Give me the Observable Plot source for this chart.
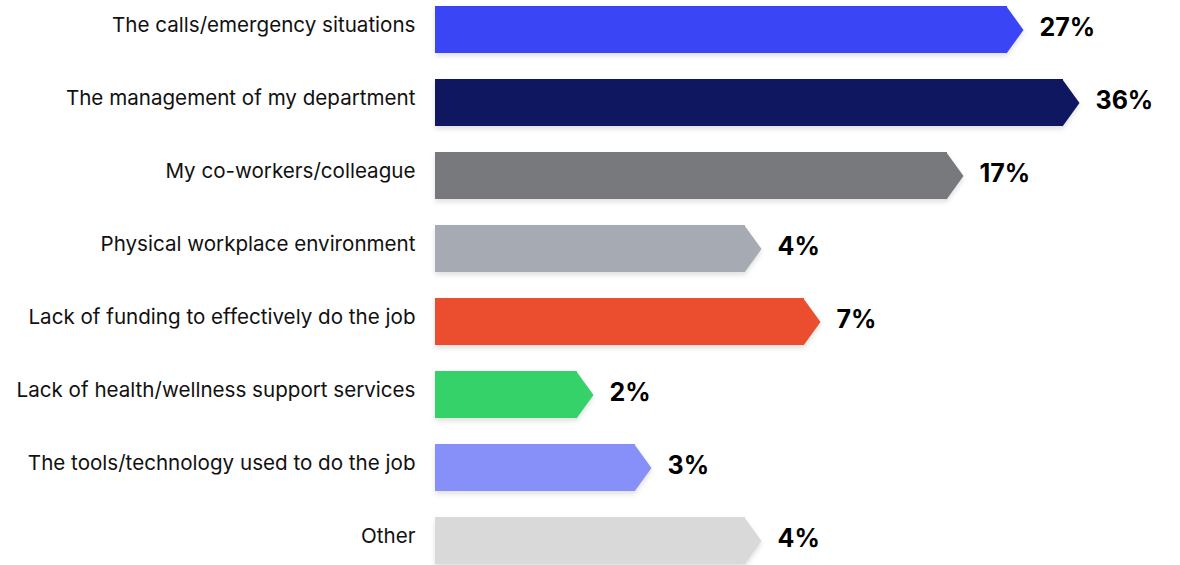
<!DOCTYPE html>
<html><head><meta charset="utf-8">
<script src="https://cdn.jsdelivr.net/npm/d3@7"></script>
<script src="https://cdn.jsdelivr.net/npm/@observablehq/plot@0.6"></script>
<style>
html,body{margin:0;padding:0;background:#fff;}
.shadow{filter:drop-shadow(0 3px 2.5px rgba(0,0,0,0.12));}
</style></head><body><div id="chart"></div>
<script>
const categories = [
  "The calls/emergency situations",
  "The management of my department",
  "My co-workers/colleague",
  "Physical workplace environment",
  "Lack of funding to effectively do the job",
  "Lack of health/wellness support services",
  "The tools/technology used to do the job",
  "Other"
];
const values = [27, 36, 17, 4, 7, 2, 3, 4];
const colors = ["#3a45f6", "#0e1760", "#78797d", "#a6aab2", "#eb4e2f", "#35d26a", "#8690f8", "#d9d9d9"];

const data = categories.map((c, i) => ({category: c, value: values[i], color: colors[i]}));

const yOpts = {domain: categories, range: [4.5, 564.5], paddingInner: 0.36, paddingOuter: 0, align: 0.5};
const bw = Plot.scale({y: {type: "band", ...yOpts}}).bandwidth;
const tipW = 16;
const tip = {draw(ctx) { ctx.moveTo(-1, -bw / 2); ctx.lineTo(tipW, 0); ctx.lineTo(-1, bw / 2); ctx.closePath(); }};

const chart = Plot.plot({
  width: 1180, height: 565,
  marginLeft: 435, marginRight: 0, marginTop: 0, marginBottom: 0,
  style: {fontFamily: "Inter, sans-serif", background: "#fff", overflow: "visible"},
  x: {type: "linear", domain: [0, 2, 3, 4, 7, 17, 27, 36], range: [435, 577, 635, 745, 804, 947, 1007, 1063], axis: null},
  y: {type: "band", ...yOpts, label: null, axis: null},
  color: {type: "identity"},
  marks: [
    Plot.barX(data, {x: "value", y: "category", fill: "color", className: "arrow-body"}),
    Plot.dot(data, {x: "value", y: "category", fill: "color", symbol: tip, r: 10, className: "arrow-tip"}),
    Plot.text(data, {x: "value", y: "category", text: d => d.value + "%", dx: tipW + 16, dy: -2, textAnchor: "start", fontSize: 25, fontWeight: 700, fill: "#000"}),
    Plot.axisY({tickSize: 0, tickPadding: 20, fontSize: 20.6, fill: "#111", dy: -5, label: null})
  ]
});
// group body + tip so a single soft shadow is cast under each whole arrow
const body = chart.querySelector("g.arrow-body");
const tipG = chart.querySelector("g.arrow-tip");
const wrap = document.createElementNS("http://www.w3.org/2000/svg", "g");
wrap.setAttribute("class", "shadow");
body.parentNode.insertBefore(wrap, body);
wrap.appendChild(body);
wrap.appendChild(tipG);
document.getElementById("chart").appendChild(chart);
</script>
</body></html>
